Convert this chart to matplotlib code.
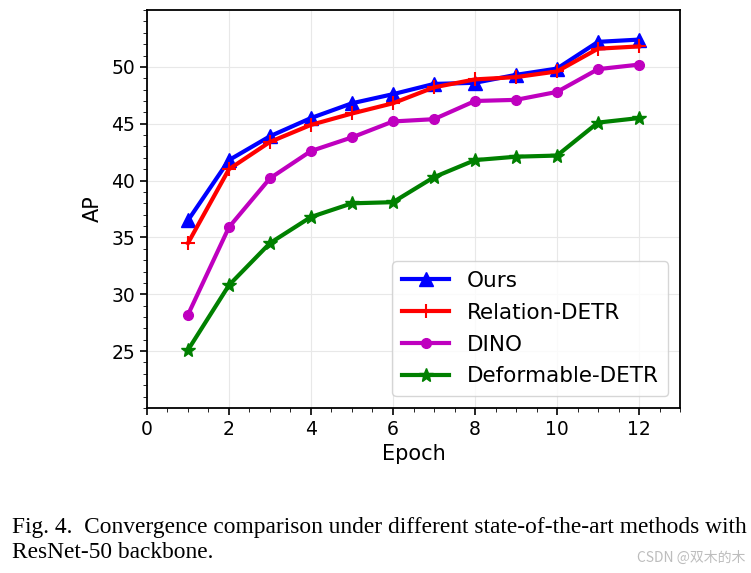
import numpy as np
import matplotlib.pyplot as plt
from matplotlib.ticker import MultipleLocator

# 每个 epoch 的 AP
epochs = [1, 2, 3, 4, 5, 6, 7, 8, 9, 10, 11, 12]
ours = [36.5, 41.8, 43.9, 45.5, 46.8, 47.6, 48.5, 48.6, 49.3, 49.85, 52.2, 52.4]
relation_detr = [34.5, 41.0, 43.4, 44.9, 45.9, 46.8, 48.2, 48.9, 49.1, 49.6, 51.6, 51.8]
dino = [28.2, 35.9, 40.2, 42.6, 43.8, 45.2, 45.4, 47.0, 47.1, 47.8, 49.8, 50.2]
deformable_detr = [25.1, 30.8, 34.5, 36.8, 38.0, 38.1, 40.3, 41.8, 42.1, 42.2, 45.1, 45.5]

fig = plt.figure(figsize=(7.51, 5.73), dpi=100)
ax = fig.add_axes([0.1957, 0.288, 0.7098, 0.6945])

ax.plot(epochs, ours, "b-", marker="^", markersize=10, linewidth=3, label="Ours")
ax.plot(epochs, relation_detr, "r-", marker="+", markersize=10, markeredgewidth=1.5,
        linewidth=3, label="Relation-DETR")
ax.plot(epochs, dino, "m-", marker="o", markersize=7, linewidth=3, label="DINO")
ax.plot(epochs, deformable_detr, "g-", marker="*", markersize=10, linewidth=3,
        label="Deformable-DETR")

ax.set_xlim(0, 13)
ax.set_ylim(20, 55)
ax.set_xticks([0, 2, 4, 6, 8, 10, 12])
ax.set_yticks([25, 30, 35, 40, 45, 50])
ax.xaxis.set_minor_locator(MultipleLocator(0.5))
ax.yaxis.set_minor_locator(MultipleLocator(1))
ax.tick_params(which="major", labelsize=13.5, length=5, width=1.2)
ax.tick_params(which="minor", length=3)
ax.grid(True, which="major", color="#e8e8e8", linewidth=0.8)
for s in ax.spines.values():
    s.set_linewidth(1.3)

ax.set_xlabel("Epoch", fontsize=15)
ax.set_ylabel("AP", fontsize=15, labelpad=6)
ax.legend(loc="lower right", fontsize=15.5, handlelength=2.2, borderpad=0.45,
          labelspacing=0.55, borderaxespad=0.55)

fig.text(0.016, 0.07, "Fig. 4.  Convergence comparison under different state-of-the-art methods with",
         family="Liberation Serif", fontsize=16.8, va="baseline")
fig.text(0.016, 0.027, "ResNet-50 backbone.",
         family="Liberation Serif", fontsize=16.8, va="baseline")
fig.text(0.993, 0.02, "CSDN @双木的木", family=["Noto Sans CJK SC", "DejaVu Sans"],
         fontsize=10, color="#bdbdbd", ha="right", va="baseline")

fig.savefig("out.png")
